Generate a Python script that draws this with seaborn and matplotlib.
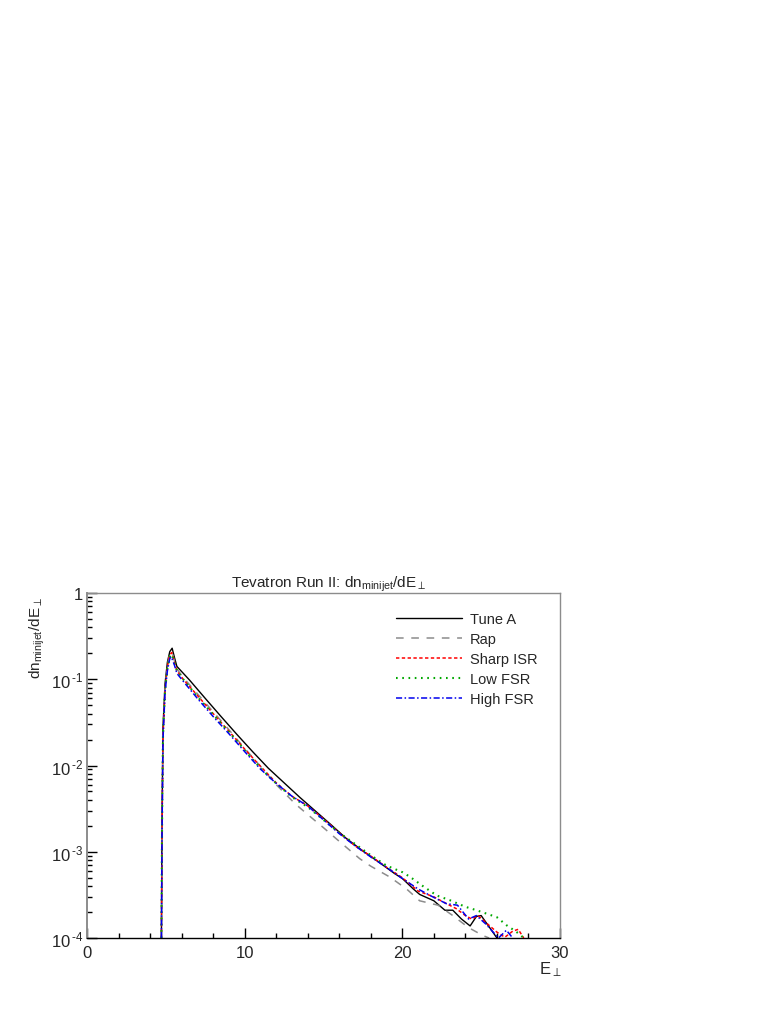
import numpy as np
import pandas as pd
import matplotlib
matplotlib.use('Agg')
import matplotlib.pyplot as plt
import matplotlib.ticker as mticker
import seaborn as sns

# E_perp grid points and dn/dE values, one list per tune
tune_a_e = [4.72, 4.76, 4.82, 4.95, 5.1, 5.25, 5.4, 5.55, 5.7, 6.5, 7.5, 8.5, 9.5,
            10.5, 11.5, 12.5, 13.5, 14.5, 15.5, 16.4, 17.5, 18.5, 19.5, 20.0, 20.7,
            21.1, 22.0, 22.7, 23.2, 23.75, 24.3, 24.7, 25.0, 25.5, 26.0]
tune_a_v = [1.0e-4, 2.5e-3, 2.8e-2, 8.9e-2, 0.158, 0.209, 0.229, 0.178, 0.141, 9.8e-2,
            6.0e-2, 3.7e-2, 2.3e-2, 1.45e-2, 9.3e-3, 6.3e-3, 4.27e-3, 2.95e-3, 2.04e-3,
            1.45e-3, 1.02e-3, 7.6e-4, 5.6e-4, 4.9e-4, 3.7e-4, 3.2e-4, 2.7e-4, 2.1e-4,
            2.1e-4, 1.66e-4, 1.38e-4, 1.78e-4, 1.82e-4, 1.35e-4, 1.0e-4]

rap_e = [4.72, 4.76, 4.82, 4.95, 5.1, 5.25, 5.38, 5.55, 5.7, 6.1, 7.0, 8.0, 9.0, 10.0,
         11.0, 12.0, 13.2, 14.0, 15.0, 16.0, 17.3, 18.0, 19.2, 20.27, 21.1, 22.27,
         23.2, 24.2, 25.1, 25.5]
rap_v = [1.0e-4, 2.2e-3, 2.5e-2, 7.9e-2, 0.145, 0.195, 0.209, 0.162, 0.132, 0.105,
         6.8e-2, 4.2e-2, 2.6e-2, 1.58e-2, 9.8e-3, 6.0e-3, 3.6e-3, 2.7e-3, 1.9e-3,
         1.32e-3, 8.3e-4, 6.8e-4, 5.1e-4, 3.7e-4, 2.7e-4, 2.4e-4, 1.82e-4, 1.32e-4,
         1.07e-4, 1.0e-4]

sharp_isr_e = [4.72, 4.76, 4.82, 4.95, 5.1, 5.25, 5.38, 5.55, 5.7, 6.1, 7.0, 8.0, 9.0,
               10.0, 11.0, 12.0, 13.0, 14.0, 15.0, 16.0, 17.0, 18.0, 19.0, 20.0, 21.0,
               22.0, 22.8, 23.4, 24.0, 24.4, 24.8, 25.3, 26.0, 26.5, 27.0, 27.35, 27.7]
sharp_isr_v = [1.0e-4, 2.0e-3, 2.2e-2, 7.6e-2, 0.141, 0.191, 0.204, 0.158, 0.126, 0.100,
               6.5e-2, 4.0e-2, 2.5e-2, 1.55e-2, 9.8e-3, 6.3e-3, 4.4e-3, 3.4e-3, 2.4e-3,
               1.66e-3, 1.17e-3, 8.9e-4, 6.6e-4, 5.0e-4, 3.5e-4, 3.0e-4, 2.5e-4, 2.2e-4,
               1.82e-4, 1.66e-4, 1.82e-4, 1.51e-4, 1.17e-4, 1.02e-4, 1.2e-4, 1.26e-4, 1.0e-4]

low_fsr_e = [4.72, 4.76, 4.82, 4.95, 5.1, 5.25, 5.38, 5.55, 5.7, 6.1, 7.0, 8.0, 9.0,
             10.0, 11.0, 12.0, 13.0, 14.0, 15.0, 16.0, 17.0, 18.0, 19.0, 20.0, 20.5,
             21.3, 22.2, 23.0, 24.0, 24.7, 25.4, 26.0, 26.6, 27.0, 27.4, 27.7]
low_fsr_v = [1.0e-4, 2.0e-3, 2.2e-2, 7.4e-2, 0.135, 0.182, 0.195, 0.155, 0.126, 0.100,
             6.3e-2, 3.9e-2, 2.45e-2, 1.51e-2, 9.3e-3, 6.2e-3, 4.3e-3, 3.3e-3, 2.34e-3,
             1.66e-3, 1.23e-3, 9.1e-4, 6.9e-4, 5.8e-4, 5.1e-4, 4.0e-4, 3.1e-4, 2.75e-4,
             2.3e-4, 2.1e-4, 1.9e-4, 1.74e-4, 1.41e-4, 1.26e-4, 1.12e-4, 1.0e-4]

high_fsr_e = [4.72, 4.76, 4.82, 4.95, 5.1, 5.25, 5.35, 5.55, 5.7, 6.1, 7.0, 8.0, 9.0,
              10.0, 11.0, 12.0, 13.0, 14.0, 15.0, 16.0, 17.0, 18.0, 19.0, 20.0, 21.0,
              22.0, 22.8, 23.5, 24.2, 24.7, 25.3, 26.1, 26.6, 27.0]
high_fsr_v = [1.0e-4, 1.8e-3, 2.0e-2, 7.1e-2, 0.126, 0.174, 0.182, 0.145, 0.117, 9.5e-2,
              6.0e-2, 3.7e-2, 2.34e-2, 1.45e-2, 9.1e-3, 6.2e-3, 4.4e-3, 3.4e-3, 2.34e-3,
              1.62e-3, 1.17e-3, 8.7e-4, 6.6e-4, 4.9e-4, 3.7e-4, 2.95e-4, 2.5e-4, 2.4e-4,
              1.66e-4, 1.82e-4, 1.45e-4, 1.0e-4, 1.23e-4, 1.0e-4]

series_names = ['Tune A', 'Rap', 'Sharp ISR', 'Low FSR', 'High FSR']
series_x = [tune_a_e, rap_e, sharp_isr_e, low_fsr_e, high_fsr_e]
series_y = [tune_a_v, rap_v, sharp_isr_v, low_fsr_v, high_fsr_v]

colors = ['#000000', '#8c8c8c', '#ff0000', '#00a800', '#0000ee']
widths = [1.0, 1.1, 1.1, 1.5, 1.1]
dash_styles = [None, (5, 5), (2.2, 1.6), (0.8, 2.2), (4, 1.6, 1, 1.6)]

sns.set_style('ticks')
plt.rcParams['font.family'] = ['Liberation Sans', 'DejaVu Sans']
plt.rcParams['mathtext.fontset'] = 'custom'
plt.rcParams['mathtext.rm'] = 'Liberation Sans'
plt.rcParams['mathtext.it'] = 'Liberation Sans:italic'

fig = plt.figure(figsize=(7.82, 10.12), dpi=100)
ax = fig.add_axes([87 / 782, 1 - 939 / 1012, (560 - 87) / 782, (939 - 594) / 1012])

for name, xs, ys, col, lw, dsh in zip(series_names, series_x, series_y, colors, widths, dash_styles):
    df = pd.DataFrame({'E': xs, 'val': ys})
    sns.lineplot(data=df, x='E', y='val', color=col, label=name, ax=ax,
                 estimator=None, linewidth=lw)
    if dsh is not None:
        ax.lines[-1].set_dashes(dsh)

ax.set_yscale('log')
ax.set_xlim(0, 30)
ax.set_ylim(1e-4, 1)
ax.set_xlabel('')
ax.set_ylabel('')

ax.xaxis.set_major_locator(mticker.FixedLocator([0, 10, 20, 30]))
ax.xaxis.set_minor_locator(mticker.MultipleLocator(2))
ax.yaxis.set_major_locator(mticker.LogLocator(base=10, numticks=10))
ax.yaxis.set_minor_locator(mticker.LogLocator(base=10, subs=np.arange(2, 10), numticks=20))
ax.yaxis.set_minor_formatter(mticker.NullFormatter())

HYPHEN = '\u2010'


def ylab(v, pos):
    if v >= 0.99:
        return '1'
    # short hyphen for the exponent like the ROOT output
    return '$\\mathregular{10^{\\,' + HYPHEN + '%d}}$' % abs(int(round(np.log10(v))))


ax.yaxis.set_major_formatter(mticker.FuncFormatter(ylab))
ax.tick_params(axis='both', which='major', direction='in', length=7.5, width=1,
               labelsize=12, color='black', top=False, right=False)
ax.tick_params(axis='both', which='minor', direction='in', length=3.8, width=1,
               color='black', top=False, right=False)
ax.tick_params(axis='x', pad=5)
ax.tick_params(axis='y', pad=3)

for side in ['top', 'right']:
    ax.spines[side].set_color('#8c8c8c')
    ax.spines[side].set_linewidth(1.0)
ax.spines['left'].set_color('#8c8c8c')
ax.spines['left'].set_linewidth(1.4)
ax.spines['bottom'].set_color('black')
ax.spines['bottom'].set_linewidth(1.0)

leg = ax.legend(loc='upper left', bbox_to_anchor=(389 / 782, 1 - 606 / 1012),
                bbox_transform=fig.transFigure, frameon=False, fontsize=10.5,
                handlelength=4.5, handletextpad=0.55, labelspacing=0.4, borderpad=0)

fig.text(329 / 782, 1 - 588 / 1012,
         r'Tevatron Run II: $\mathregular{dn_{minijet}/dE_{\perp}}$',
         ha='center', va='baseline', fontsize=11)
fig.text(37 / 782, 1 - 597 / 1012, r'$\mathregular{dn_{minijet}/dE_{\perp}}$',
         rotation=90, ha='center', va='top', fontsize=11)
fig.text(562 / 782, 1 - 960 / 1012, r'$\mathregular{E_{\perp}}$',
         ha='right', va='top', fontsize=12)

fig.savefig('out.png', dpi=100, facecolor='white')
